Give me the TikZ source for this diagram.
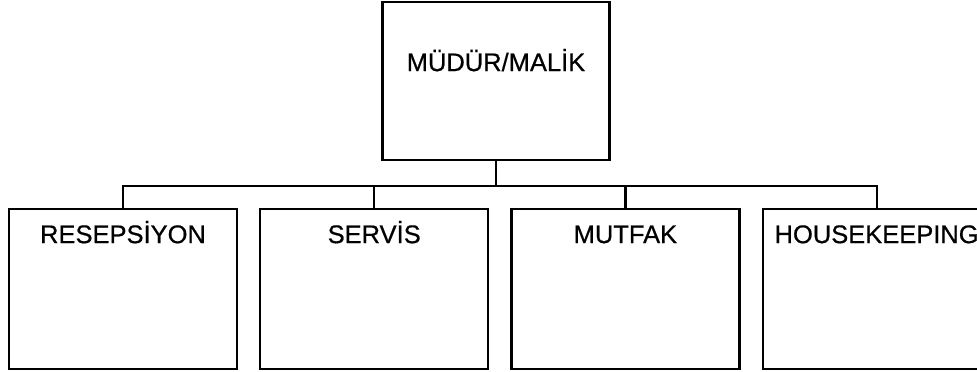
\documentclass[tikz,border=0pt]{standalone}
\usepackage{fontspec}
\setmainfont{Liberation Sans}
\newfontfamily\boxfont{Liberation Sans}[BoldFont=Liberation Sans, BoldFeatures={FakeBold=0.6}]
\usetikzlibrary{positioning}

\begin{document}
\begin{tikzpicture}[
  x=1pt, y=-1pt,
  head/.style={draw, line width=2.2pt, inner sep=0pt, minimum width=227pt, text height=69pt, text depth=89pt, font=\boxfont\bfseries\fontsize{25.5}{30}\selectfont},
  unit/.style={draw, line width=2.2pt, inner sep=0pt, minimum width=228pt, text height=34pt, text depth=126pt, font=\boxfont\bfseries\fontsize{25.5}{30}\selectfont},
  link/.style={line width=2.2pt},
  node distance=49pt and 21pt
]
\useasboundingbox (0,0) rectangle (977,372);
\node[head, anchor=north] (boss) at (496,1) {MÜDÜR/MALİK};
\node[unit, anchor=north] (resep) at (123,208) {RESEPSİYON};
\node[unit, right=of resep] (servis) {SERVİS};
\node[unit, right=of servis] (mutfak) {MUTFAK};
\node[unit, right=of mutfak] (house) {HOUSEKEEPING};

\draw[link] (boss.south) -- ++(0,25) -| (resep.north);
\draw[link] (boss.south) -- ++(0,25) -| (servis.north);
\draw[link] (boss.south) -- ++(0,25) -| (mutfak.north);
\draw[link] (boss.south) -- ++(0,25) -| (house.north);
\end{tikzpicture}
\end{document}
